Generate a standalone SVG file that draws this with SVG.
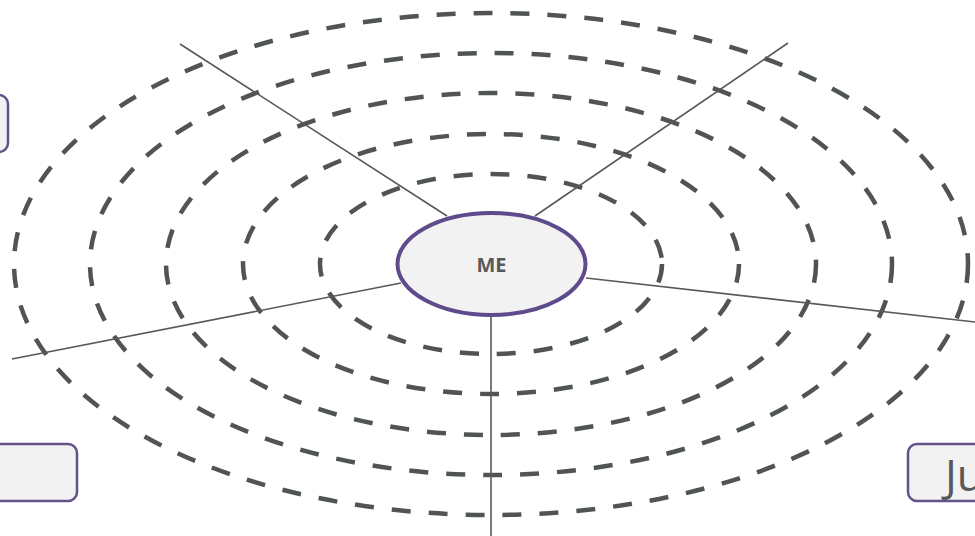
<svg xmlns="http://www.w3.org/2000/svg" width="975" height="536" viewBox="0 0 975 536">
<style>
.ring{fill:none;stroke:#505455;stroke-width:4.5;stroke-dasharray:19 18}
.spoke{stroke:#595959;stroke-width:1.6;fill:none}
.box{fill:#F2F2F2;stroke:#64528A;stroke-width:2.5}
.lbl{font-family:"Open Sans","Liberation Sans",sans-serif;fill:#595959}
</style>
<rect width="975" height="536" fill="#FFFFFF"/>
<g id="rings">
<ellipse class="ring" cx="491" cy="264" rx="477" ry="251"/>
<ellipse class="ring" cx="491" cy="264" rx="401" ry="211"/>
<ellipse class="ring" cx="491" cy="264" rx="325" ry="171"/>
<ellipse class="ring" cx="491" cy="264" rx="248" ry="130"/>
<ellipse class="ring" cx="491" cy="264" rx="171" ry="90"/>
</g>
<g id="connectors">
<line class="spoke" x1="180" y1="44" x2="447" y2="216"/>
<line class="spoke" x1="788" y1="43" x2="535" y2="216"/>
<line class="spoke" x1="12" y1="359" x2="401" y2="283"/>
<line class="spoke" x1="586" y1="278" x2="975" y2="322"/>
<line class="spoke" x1="491" y1="316" x2="491" y2="536"/>
</g>
<g id="node-me">
<ellipse cx="491.5" cy="264" rx="94" ry="51" fill="#F2F2F2" stroke="#5F4B8B" stroke-width="4"/>
<text class="lbl" x="491.5" y="272" text-anchor="middle" font-size="20" font-weight="bold">ME</text>
</g>
<g id="node-left-top">
<rect class="box" x="-60" y="95" width="68" height="57" rx="9"/>
</g>
<g id="node-left-bottom">
<rect class="box" x="-60" y="444" width="137" height="57" rx="9"/>
</g>
<g id="node-right-bottom">
<rect class="box" x="908" y="444" width="120" height="57" rx="9"/>
<text class="lbl" x="945" y="491" font-size="44">Ju</text>
</g>
</svg>
